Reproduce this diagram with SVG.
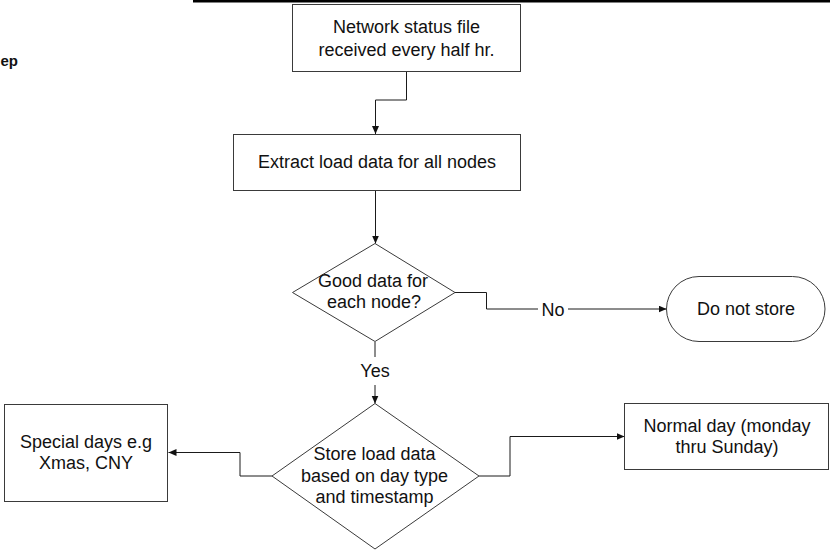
<svg xmlns="http://www.w3.org/2000/svg" width="830" height="550" viewBox="0 0 830 550">
<style>
.shape{fill:#fff;stroke:#3a3a3a;stroke-width:1}
.conn{fill:none;stroke:#1a1a1a;stroke-width:1}
.t{font-family:"Liberation Sans",Arial,sans-serif;font-size:18px;fill:#111;text-anchor:middle}
.lbl{font-family:"Liberation Sans",Arial,sans-serif;font-size:18px;fill:#111;text-anchor:middle}
</style>
<defs>
<marker id="arr" markerUnits="userSpaceOnUse" markerWidth="9" markerHeight="8" refX="8" refY="3.5" orient="auto">
<path d="M0,0 L8,3.5 L0,7 z" fill="#111"/>
</marker>
</defs>
<rect x="0" y="0" width="830" height="550" fill="#fff"/>
<rect x="193" y="0" width="637" height="2.5" fill="#000"/>
<text x="0.5" y="66" font-family="Liberation Sans,Arial,sans-serif" font-size="15" font-weight="bold" fill="#111">ep</text>

<g id="connectors">
<path class="conn" d="M406.5,72 V100 H375.5 V134" marker-end="url(#arr)"/>
<path class="conn" d="M375.5,191 V243.5" marker-end="url(#arr)"/>
<path class="conn" d="M455,292.5 H486.5 V309 H538"/>
<path class="conn" d="M568,309 H666.5" marker-end="url(#arr)"/>
<text class="lbl" x="553" y="315.5">No</text>
<path class="conn" d="M375,342 V357"/>
<path class="conn" d="M375,385 V403.5" marker-end="url(#arr)"/>
<text class="lbl" x="375" y="377">Yes</text>
<path class="conn" d="M272,476 H240 V452.5 H168.5" marker-end="url(#arr)"/>
<path class="conn" d="M479,476 H510 V436.5 H624.5" marker-end="url(#arr)"/>
</g>

<g id="network-status">
<rect class="shape" x="292.5" y="4.5" width="228" height="67"/>
<text class="t" x="406.5" y="33">Network status file</text>
<text class="t" x="406.5" y="56">received every half hr.</text>
</g>

<g id="extract-load">
<rect class="shape" x="233.5" y="134.5" width="287" height="56"/>
<text class="t" x="377" y="168">Extract load data for all nodes</text>
</g>

<g id="good-data">
<polygon class="shape" points="375,243.5 455,292.5 375,341.5 292.5,292.5"/>
<text class="t" x="373" y="287">Good data for</text>
<text class="t" x="374" y="308">each node?</text>
</g>

<g id="do-not-store">
<rect class="shape" x="666.5" y="276.5" width="158.5" height="65" rx="32.5" ry="32.5"/>
<text class="t" x="746" y="315">Do not store</text>
</g>

<g id="store-load">
<polygon class="shape" points="375,403.5 479,476 375,549 272,476"/>
<text class="t" x="374.5" y="460">Store load data</text>
<text class="t" x="374.5" y="482">based on day type</text>
<text class="t" x="374.5" y="503">and timestamp</text>
</g>

<g id="special-days">
<rect class="shape" x="4.5" y="404.5" width="163" height="97"/>
<text class="t" x="86" y="448">Special days e.g</text>
<text class="t" x="86" y="469">Xmas, CNY</text>
</g>

<g id="normal-day">
<rect class="shape" x="624.5" y="403.5" width="204" height="66"/>
<text class="t" x="727" y="432">Normal day (monday</text>
<text class="t" x="727" y="453">thru Sunday)</text>
</g>
</svg>
